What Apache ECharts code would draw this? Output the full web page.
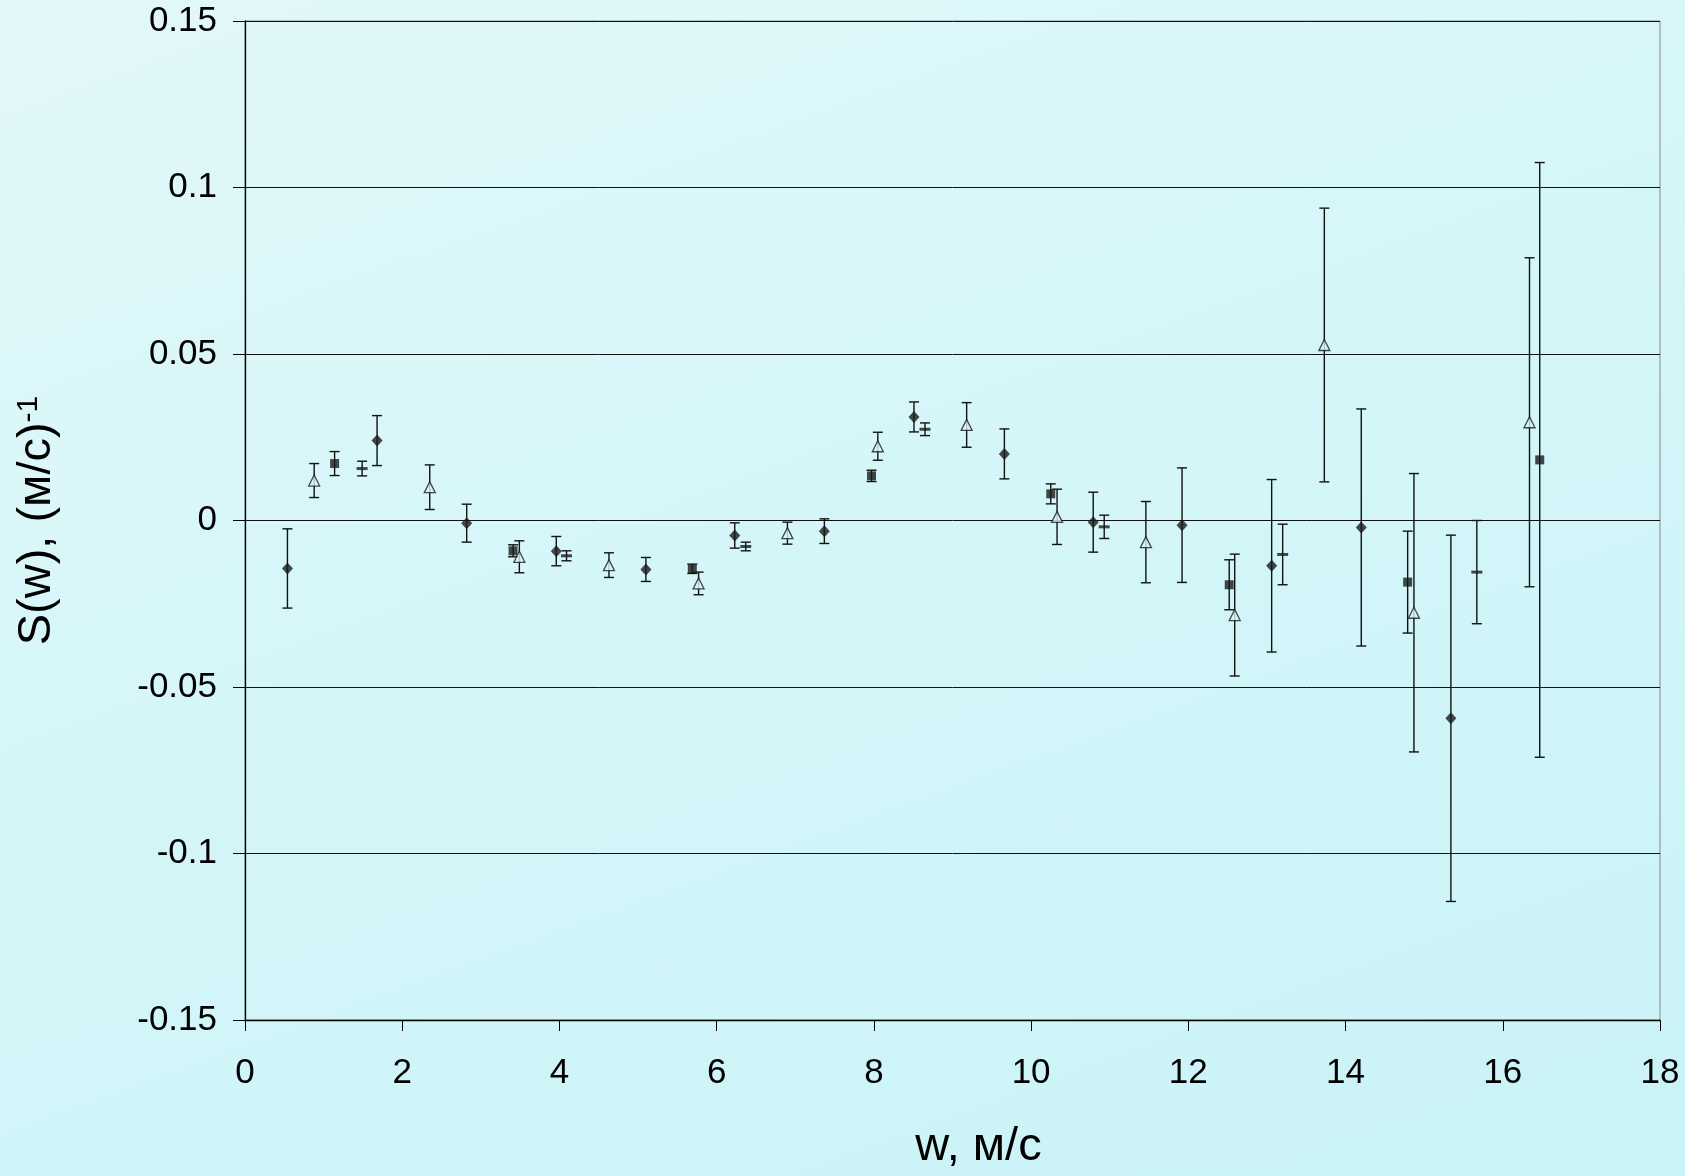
<!DOCTYPE html>
<html><head><meta charset="utf-8">
<script src="https://cdn.jsdelivr.net/npm/echarts@6/dist/echarts.min.js"></script>
<style>
html,body{margin:0;padding:0;width:1685px;height:1176px;overflow:hidden;
background:linear-gradient(160deg,#e3f8fa 0%,#d5f6f9 45%,#c9f3f7 100%);}
#c{width:1685px;height:1176px}
</style>
</head><body><div id="c"></div><script>
// Series: filled diamonds
const diamondX   = [0.54, 1.68, 2.82, 3.96, 5.10, 6.23, 7.37, 8.51, 9.66, 10.79, 11.92, 13.06, 14.20, 15.34];
const diamondY   = [-0.0144, 0.0240, -0.0008, -0.0092, -0.0147, -0.0045, -0.0032, 0.0311, 0.0200, -0.0005, -0.0014, -0.0136, -0.0021, -0.0594];
const diamondErr = [0.0119, 0.0075, 0.0057, 0.0044, 0.0036, 0.0038, 0.0037, 0.0045, 0.0075, 0.0090, 0.0172, 0.0259, 0.0356, 0.0550];
// Series: filled squares
const squareX   = [1.14, 3.41, 5.69, 7.97, 10.25, 12.52, 14.79, 16.47];
const squareY   = [0.0171, -0.0091, -0.0145, 0.0134, 0.0080, -0.0193, -0.0185, 0.0182];
const squareErr = [0.0036, 0.0018, 0.0014, 0.0017, 0.0030, 0.0075, 0.0153, 0.0893];
// Series: open triangles
const triX   = [0.88, 2.35, 3.49, 4.63, 5.77, 6.90, 8.05, 9.18, 10.33, 11.46, 12.59, 13.73, 14.87, 16.34];
const triY   = [0.0120, 0.0100, -0.0109, -0.0134, -0.0189, -0.0038, 0.0223, 0.0287, 0.0011, -0.0065, -0.0284, 0.0527, -0.0277, 0.0295];
const triErr = [0.0051, 0.0067, 0.0048, 0.0037, 0.0034, 0.0033, 0.0042, 0.0067, 0.0083, 0.0122, 0.0183, 0.0411, 0.0418, 0.0494];
// Series: dash markers
const dashX   = [1.49, 4.09, 6.37, 8.65, 10.93, 13.20, 15.67];
const dashY   = [0.0156, -0.0106, -0.0078, 0.0274, -0.0019, -0.0102, -0.0155];
const dashErr = [0.0022, 0.0015, 0.0013, 0.0019, 0.0035, 0.0091, 0.0155];

const xTicks = [0, 2, 4, 6, 8, 10, 12, 14, 16, 18];
const yTicks = [-0.15, -0.1, -0.05, 0, 0.05, 0.1, 0.15];

const pts = (xs, ys) => xs.map((x, i) => [x, ys[i]]);
const errs = (xs, ys, es) => xs.map((x, i) => [x, ys[i] - es[i], ys[i] + es[i]]);

const allErr = [].concat(
  errs(diamondX, diamondY, diamondErr),
  errs(squareX, squareY, squareErr),
  errs(triX, triY, triErr),
  errs(dashX, dashY, dashErr)
);

function renderErr(params, api) {
  const x = api.value(0), lo = api.value(1), hi = api.value(2);
  const a = api.coord([x, hi]), b = api.coord([x, lo]);
  const h = 5;
  const st = {stroke: '#111', lineWidth: 1.4};
  return {type: 'group', children: [
    {type: 'line', shape: {x1: a[0], y1: a[1], x2: b[0], y2: b[1]}, style: st},
    {type: 'line', shape: {x1: a[0] - h, y1: a[1], x2: a[0] + h, y2: a[1]}, style: st},
    {type: 'line', shape: {x1: b[0] - h, y1: b[1], x2: b[0] + h, y2: b[1]}, style: st}
  ]};
}

const FONT = '"Liberation Sans", Arial, sans-serif';
const chart = echarts.init(document.getElementById('c'), null, {renderer: 'canvas'});
chart.setOption({
  backgroundColor: 'transparent',
  animation: false,
  grid: {left: 245, right: 25, top: 21, bottom: 156, show: true, borderColor: '#888', borderWidth: 1, backgroundColor: 'transparent'},
  xAxis: {
    type: 'value', min: xTicks[0], max: xTicks[xTicks.length - 1], interval: 2,
    axisLine: {onZero: false, lineStyle: {color: '#000', width: 1.3}},
    axisTick: {show: true, length: 11, lineStyle: {color: '#000', width: 1}},
    axisLabel: {color: '#000', fontSize: 35, fontFamily: FONT, margin: 36},
    splitLine: {show: false},
    name: 'w, м/с', nameLocation: 'middle', nameGap: 104,
    nameTextStyle: {color: '#000', fontSize: 47, fontFamily: FONT, padding: [0, 0, 0, 52]}
  },
  yAxis: {
    type: 'value', min: yTicks[0], max: yTicks[yTicks.length - 1], interval: 0.05,
    axisLine: {onZero: false, lineStyle: {color: '#000', width: 1.3}},
    axisTick: {show: true, length: 12, lineStyle: {color: '#000', width: 1}},
    axisLabel: {color: '#000', fontSize: 35, fontFamily: FONT, margin: 28,
      formatter: v => String(+v.toFixed(2))},
    splitLine: {show: true, lineStyle: {color: '#111', width: 1}},
    name: '{a|S(w), (м/с)}{s|-1}', nameLocation: 'middle', nameGap: 184, nameRotate: 90,
    nameTextStyle: {color: '#000', fontFamily: FONT,
      rich: {a: {fontSize: 47, fontFamily: FONT, color: '#000'},
             s: {fontSize: 30, fontFamily: FONT, color: '#000', verticalAlign: 'top', padding: [0, 0, 15, 0]}}}
  },
  series: [
    {type: 'custom', renderItem: renderErr, data: allErr, encode: {x: 0, y: [1, 2]}, z: 2, silent: true},
    {type: 'scatter', data: pts(diamondX, diamondY), symbol: 'diamond', symbolSize: [11, 12],
      itemStyle: {color: '#1a1a1a'}, z: 5},
    {type: 'scatter', data: pts(squareX, squareY), symbol: 'rect', symbolSize: 9,
      itemStyle: {color: '#1a1a1a'}, z: 5},
    {type: 'scatter', data: pts(triX, triY), symbol: 'triangle', symbolSize: [11, 11],
      itemStyle: {color: 'rgba(214,246,249,1)', borderColor: '#1a1a1a', borderWidth: 1.3}, z: 5},
    {type: 'scatter', data: pts(dashX, dashY), symbol: 'rect', symbolSize: [11, 3],
      itemStyle: {color: '#1a1a1a'}, z: 5}
  ]
});
</script></body></html>
